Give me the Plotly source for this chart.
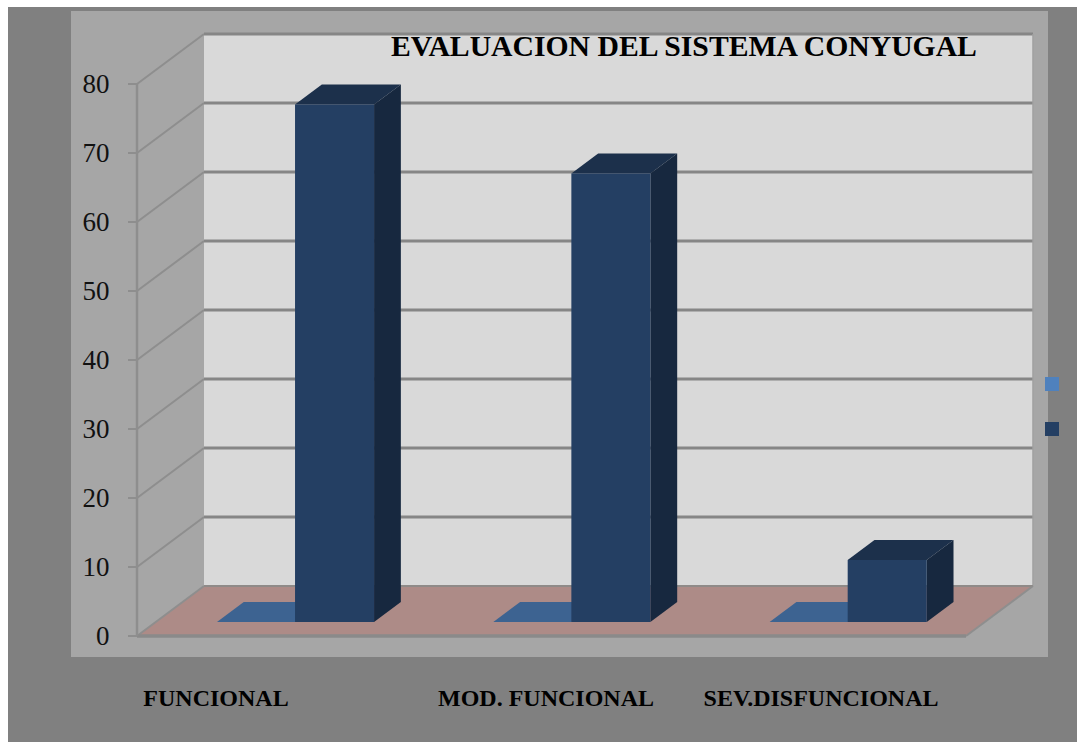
import plotly.graph_objects as go

# --- data ---
categories = ["FUNCIONAL", "MOD. FUNCIONAL", "SEV.DISFUNCIONAL"]
series_front = [0, 0, 0]
series_back = [75, 65, 9]
y_ticks = [0, 10, 20, 30, 40, 50, 60, 70, 80]
title_text = "EVALUACION DEL SISTEMA CONYUGAL"

# --- layout constants ---
W, H = 1077, 742
X0, X_UNIT = 137, 276.33       # px of category 0 edge, px per category
Y0, Y_UNIT = 636, 6.9          # px of value 0, px per value unit
DX, DY = 67 / X_UNIT, 50 / Y_UNIT   # projection of full depth
FONT = "Liberation Serif"
label_px = [216, 546, 821]

xr = [-X0 / X_UNIT, (W - X0) / X_UNIT]
yr = [(Y0 - H) / Y_UNIT, Y0 / Y_UNIT]


def P(x, v, d=0.0):
    return x + d * DX, v + d * DY


fig = go.Figure()


def poly(pts, color):
    xs, ys = zip(*pts)
    fig.add_trace(go.Scatter(x=list(xs) + [xs[0]], y=list(ys) + [ys[0]], mode="lines",
                             fill="toself", fillcolor=color, line=dict(width=0, color=color),
                             hoverinfo="skip", showlegend=False))


def seg(pts, color, width):
    xs, ys = zip(*pts)
    fig.add_trace(go.Scatter(x=list(xs), y=list(ys), mode="lines", line=dict(color=color, width=width),
                             hoverinfo="skip", showlegend=False))


n = len(categories)
vmax = y_ticks[-1]
# walls and floor
poly([P(0, 0), P(0, 0, 1), P(0, vmax, 1), P(0, vmax)], "#a6a6a6")
poly([P(0, 0, 1), P(n, 0, 1), P(n, vmax, 1), P(0, vmax, 1)], "#d9d9d9")
poly([P(0, 0), P(n, 0), P(n, 0, 1), P(0, 0, 1)], "#ad8b87")
# grid
for v in y_ticks:
    seg([P(0, v), P(0, v, 1)], "#8e8e8e", 2)
    if v > 0:
        seg([P(0, v, 1), P(n, v, 1)], "#868686", 3)
seg([P(n, 0, 1), P(n, vmax, 1)], "#a0a0a0", 1.5)
seg([P(0, 0, 1), P(n, 0, 1)], "#8f8a88", 2)
seg([P(n, 0), P(n, 0, 1)], "#8e8e8e", 2)
seg([P(0, 0), P(n, 0)], "#8a8a8a", 3.5)
seg([P(0, 0), P(0, vmax)], "#8e8e8e", 2.5)

# bars
D_FRONT, D_BACK = 0.28, 0.68
A_L, A_R = 0.2215, 0.504
B_L, B_R = 0.504, 0.79
for i in range(n):
    v = series_front[i]
    poly([P(i + A_L, v, D_FRONT), P(i + A_R, v, D_FRONT), P(i + A_R, v, D_BACK), P(i + A_L, v, D_BACK)], "#3d6391")
    v = series_back[i]
    poly([P(i + B_L, v, D_BACK), P(i + B_R, v, D_BACK), P(i + B_R, v, D_FRONT), P(i + B_L, v, D_FRONT)], "#1c304b")
    poly([P(i + B_R, 0, D_FRONT), P(i + B_R, 0, D_BACK), P(i + B_R, v, D_BACK), P(i + B_R, v, D_FRONT)], "#17283f")
    poly([P(i + B_L, 0, D_FRONT), P(i + B_R, 0, D_FRONT), P(i + B_R, v, D_FRONT), P(i + B_L, v, D_FRONT)], "#243f63")

shapes = [
    dict(type="rect", xref="paper", yref="paper", layer="below", line_width=0, fillcolor="#808080",
         x0=8 / W, x1=1, y0=0, y1=1 - 7 / H),
    dict(type="rect", xref="paper", yref="paper", layer="below", line_width=0, fillcolor="#a6a6a6",
         x0=71 / W, x1=1048 / W, y0=1 - 657 / H, y1=1 - 11 / H),
    dict(type="rect", xref="paper", yref="paper", line_width=0, fillcolor="#4f81bd",
         x0=1045 / W, x1=1059 / W, y0=1 - 391 / H, y1=1 - 377 / H),
    dict(type="rect", xref="paper", yref="paper", line_width=0, fillcolor="#243f63",
         x0=1045 / W, x1=1059 / W, y0=1 - 436 / H, y1=1 - 422 / H),
]

fig.update_layout(
    width=W, height=H, margin=dict(l=0, r=0, t=0, b=0),
    paper_bgcolor="white", plot_bgcolor="rgba(0,0,0,0)", showlegend=False,
    shapes=shapes,
    title=dict(text=f"<b>{title_text}</b>", font=dict(family=FONT, size=29.7, color="black"),
               xref="paper", yref="paper", x=391 / W, xanchor="left", y=1 - 46 / H, yanchor="middle"),
    xaxis=dict(range=xr, showgrid=False, zeroline=False, showline=False,
               tickmode="array", tickvals=[(p - X0) / X_UNIT for p in label_px],
               ticktext=[f"<b>{c}</b>" for c in categories], ticks="",
               tickfont=dict(family=FONT, size=24, color="black"),
               anchor="free", position=1 - 681 / H, fixedrange=True),
    yaxis=dict(range=yr, showgrid=False, zeroline=False, showline=False,
               tickmode="array", tickvals=y_ticks, ticks="outside", ticklen=9,
               tickcolor="#8e8e8e", tickwidth=2, ticklabelstandoff=13,
               tickfont=dict(family=FONT, size=27, color="#111111"),
               anchor="free", position=X0 / W, fixedrange=True),
)

fig.write_html("out.html", post_script="document.body.style.margin='0';", config=dict(displayModeBar=False))
